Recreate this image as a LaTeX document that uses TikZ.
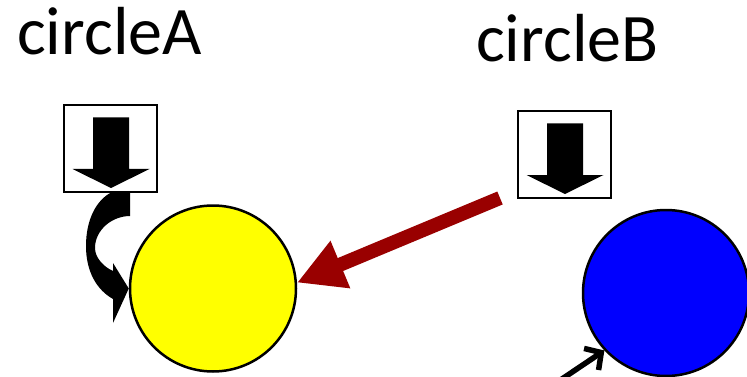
\documentclass[tikz,border=0pt]{standalone}
\usepackage{fontspec}
\setmainfont{Carlito}
\usetikzlibrary{arrows.meta}
\definecolor{darkred}{HTML}{990000}
\definecolor{pureyellow}{HTML}{FFFF00}
\definecolor{pureblue}{HTML}{0000FF}
\begin{document}
\begin{tikzpicture}[x=1pt,y=-1pt,
  lbl/.style={inner sep=0pt, font=\fontsize{68}{80}\selectfont},
  boxs/.style={draw=black, line width=2pt, fill=white, minimum width=93pt, minimum height=87pt, inner sep=0pt},
  disc/.style={circle, draw=black, line width=2.5pt, minimum size=166pt, inner sep=0pt},
  redarrow/.style={draw=darkred, line width=14pt, -{Triangle[length=47pt,width=48pt]}},
  smallarrow/.style={draw=black, line width=5.5pt, -{Straight Barb[length=12pt,width=26pt]}}
]
\useasboundingbox (0,0) rectangle (747,377);
\clip (0,0) rectangle (747,377);

\node[lbl, anchor=base west] (tA) at (17,55) {circleA};
\node[lbl, anchor=base west] (tB) at (476,62) {circleB};

\node[boxs] (bA) at (110,148.5) {};
\node[boxs] (bB) at (564,154.5) {};

\newcommand\blockarrow[1]{%
  \fill[black] ([shift={(-17,-31)}]#1.center) -- ([shift={(19,-31)}]#1.center)
    -- ([shift={(19,20.5)}]#1.center) -- ([shift={(39.5,20.5)}]#1.center)
    -- ([shift={(1,39.5)}]#1.center) -- ([shift={(-37.5,20.5)}]#1.center)
    -- ([shift={(-17,20.5)}]#1.center) -- cycle;}
\blockarrow{bA}
\blockarrow{bB}

\node[disc, fill=pureyellow] (cA) at (213,288.5) {};
\node[disc, fill=pureblue] (cB) at (666,293) {};

% curved block arrow from box A to circle A
\fill[black] (112,192) -- (130,192) -- (130,216)
  .. controls (112,216) and (95,230) .. (95,248)
  .. controls (95,258) and (104,267) .. (113,271)
  -- (113,263) -- (cA.west) -- (113,323) -- (113,299)
  .. controls (97,290) and (86,272) .. (86,246)
  .. controls (86,220) and (96,200) .. (112,192) -- cycle;

\coordinate (rs) at (500,198);
\draw[redarrow] (rs) -- (cA.4);

\coordinate (ks) at (550,387);
\draw[smallarrow] (ks) -- (cB.223);
\end{tikzpicture}
\end{document}
